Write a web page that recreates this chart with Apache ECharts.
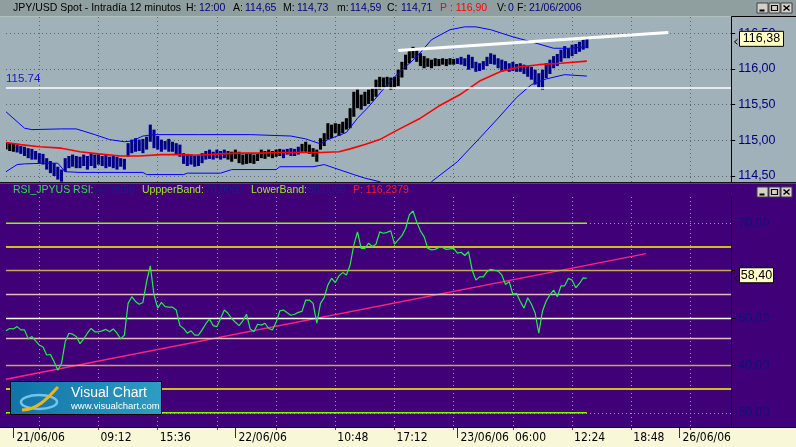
<!DOCTYPE html>
<html><head><meta charset="utf-8">
<script src="https://cdn.jsdelivr.net/npm/echarts@6/dist/echarts.min.js"></script>
<style>html,body{margin:0;padding:0;background:#f8f8d8;overflow:hidden}#c{width:796px;height:447px}</style>
</head><body><div id="c"></div>
<script>
// ---------- DATA ----------
// 24-minute steps (two 12-min bars per point), first point 20/06/06 23:12
const dayNames = ['20/06/06','21/06/06','22/06/06','23/06/06','26/06/06'];
const gridTimes = ['21/06/06 02:48','21/06/06 09:12','21/06/06 15:36','21/06/06 22:00','22/06/06 04:24','22/06/06 10:48','22/06/06 17:12','22/06/06 23:36','23/06/06 06:00','23/06/06 12:24','23/06/06 18:48','26/06/06 01:12'];
const shownTimes = ['21/06/06 09:12','21/06/06 15:36','22/06/06 10:48','22/06/06 17:12','23/06/06 06:00','23/06/06 12:24','23/06/06 18:48'];
const dayTicks = ['21/06/06 00:00','22/06/06 00:00','23/06/06 00:00','26/06/06 00:00'];
const priceTicks = [114.5,115,115.5,116,116.5];
const rsiTicks = [30,40,50,60,70];

const priceHigh = [
114.97,114.96,114.95,114.94,114.92,114.91,114.89,114.88,114.85,114.82,
114.81,114.75,114.71,114.68,114.63,114.59,114.75,114.78,114.80,114.78,
114.77,114.80,114.78,114.82,114.80,114.81,114.78,114.80,114.77,114.78,
114.77,114.75,114.74,114.96,115.01,115.03,115.01,115.02,115.05,115.22,
115.15,115.06,115.01,114.99,115.02,114.98,114.96,114.94,114.82,114.81,
114.80,114.78,114.80,114.82,114.85,114.87,114.84,114.87,114.85,114.87,
114.85,114.84,114.87,114.84,114.80,114.81,114.82,114.80,114.82,114.87,
114.85,114.87,114.85,114.87,114.88,114.87,114.88,114.89,114.88,114.91,
114.95,114.98,114.94,114.89,114.87,115.03,115.10,115.24,115.22,115.24,
115.23,115.26,115.31,115.45,115.68,115.71,115.64,115.68,115.71,115.73,
115.85,115.89,115.88,115.89,115.88,115.89,115.99,116.10,116.20,116.27,
116.31,116.27,116.22,116.18,116.15,116.13,116.15,116.14,116.15,116.14,
116.15,116.14,116.15,116.17,116.15,116.20,116.17,116.10,116.08,116.11,
116.17,116.22,116.20,116.15,116.13,116.11,116.08,116.10,116.07,116.08,
116.06,116.04,116.03,115.99,115.94,115.99,116.08,116.13,116.18,116.21,
116.27,116.32,116.29,116.34,116.35,116.38,116.41,116.45];
const priceLow = [
114.87,114.85,114.84,114.83,114.81,114.78,114.75,114.73,114.73,114.68,
114.66,114.59,114.54,114.50,114.45,114.42,114.56,114.61,114.63,114.61,
114.61,114.64,114.59,114.64,114.61,114.66,114.64,114.61,114.63,114.61,
114.59,114.63,114.59,114.77,114.82,114.84,114.85,114.82,114.87,114.98,
114.89,114.87,114.84,114.87,114.84,114.84,114.80,114.77,114.67,114.64,
114.66,114.63,114.64,114.68,114.73,114.74,114.73,114.75,114.73,114.75,
114.73,114.70,114.74,114.68,114.66,114.67,114.68,114.67,114.71,114.75,
114.74,114.77,114.75,114.77,114.78,114.75,114.80,114.78,114.78,114.80,
114.84,114.84,114.81,114.77,114.70,114.87,114.92,115.01,115.03,115.10,
115.06,115.10,115.15,115.17,115.33,115.45,115.43,115.48,115.51,115.55,
115.61,115.71,115.74,115.75,115.71,115.74,115.76,115.88,115.99,116.08,
116.15,116.10,116.04,116.01,116.03,116.01,116.04,116.04,116.06,116.04,
116.06,116.06,116.07,116.06,116.04,115.99,116.01,115.96,115.97,115.99,
116.04,116.07,116.06,116.01,115.96,115.99,115.96,115.97,115.96,115.96,
115.93,115.89,115.85,115.78,115.74,115.71,115.87,115.93,116.01,116.04,
116.10,116.15,116.15,116.18,116.21,116.24,116.27,116.29];
const movingAvg = [[0,114.97],[4,114.94],[9,114.91],[15,114.89],[20,114.84],[25,114.81],[31,114.78],[36,114.78],[42,114.80],[47,114.80],[52,114.79],[58,114.81],[63,114.82],[69,114.82],[74,114.83],[79,114.83],[85,114.83],[90,114.84],[93,114.88],[97,114.94],[101,115.01],[106,115.15],[112,115.31],[117,115.48],[123,115.65],[128,115.83],[134,115.97],[139,116.03],[144,116.06],[150,116.08],[157,116.11]];
const upperBand = [[0,115.40],[5,115.17],[7,115.15],[15,115.16],[19,115.16],[24,115.08],[28,115.01],[32,114.98],[34,114.99],[37,115.06],[40,115.08],[52,115.08],[66,115.08],[77,115.06],[81,115.02],[85,114.95],[87,115.01],[92,115.11],[95,115.31],[98,115.47],[103,115.78],[106,115.94],[111,116.17],[115,116.41],[120,116.55],[124,116.59],[127,116.59],[131,116.55],[137,116.45],[142,116.38],[148,116.29],[152,116.29],[157,116.31]];
const lowerBand = [[0,114.56],[3,114.66],[5,114.67],[11,114.68],[14,114.68],[16,114.56],[20,114.55],[37,114.55],[38,114.52],[48,114.52],[49,114.54],[58,114.54],[61,114.59],[73,114.59],[74,114.63],[83,114.63],[86,114.66],[90,114.59],[94,114.52],[97,114.47],[101,114.42],[105,114.30],[109,114.18],[113,114.25],[115,114.42],[122,114.70],[128,115.03],[133,115.31],[138,115.60],[142,115.78],[146,115.86],[151,115.92],[157,115.90]];
const priceTrend = [[106,116.26],[179,116.51]];
const supportLevel = 115.74;
const lastPrice = 116.38;

const rsiValues = [
47.3,47.8,47.7,48.2,47.5,47.5,45.6,46.1,45.2,44.3,
43.9,42.2,42.3,40.8,39.0,40.4,45.0,46.8,46.6,46.1,
44.6,45.6,46.8,47.8,47.1,47.1,47.3,47.6,47.1,47.7,
46.8,45.6,46.4,53.1,54.5,53.5,52.9,53.3,57.7,61.0,
54.9,52.1,53.3,52.4,52.3,52.3,51.7,48.4,47.8,46.8,
47.3,46.4,46.4,47.5,48.8,49.8,48.4,48.2,49.9,51.7,
51.0,49.9,49.1,48.4,49.4,50.8,47.7,47.1,48.7,48.5,
48.9,47.8,47.5,49.1,51.5,51.7,51.1,50.6,50.8,51.2,
51.4,53.8,53.8,53.1,48.9,53.1,54.3,57.0,58.4,57.5,
58.9,59.6,59.1,61.2,65.4,68.2,64.7,64.7,65.8,65.1,
65.6,68.2,67.9,68.1,68.4,65.6,66.5,67.4,68.9,71.8,
72.6,70.3,68.4,67.2,64.7,64.4,64.5,64.9,64.9,64.5,
64.6,64.7,63.7,63.9,63.2,64.0,60.1,58.0,58.7,58.7,
59.8,60.3,60.1,59.9,59.1,57.1,57.7,55.0,55.2,53.5,
52.1,54.3,52.9,51.1,46.8,51.5,53.6,54.9,55.9,54.5,
56.8,56.8,58.4,58.0,56.4,57.3,58.5,58.4];
const rsiTrend = [[0,37.1],[173,63.6]];
const rsiBandLevels = [70,30];
const rsiLevels = [65,60,55,50,45.7,40,35];
const lastRsi = 58.40;

// ---------- STYLE ----------
const levelColors = ['#ffff00','#c8a850','#e6bcb8','#ffffff','#e6bcb8','#c8a850','#ffff00'];
const blackRanges = [[0,2],[60,74],[80,121]];
const NAVY = '#000080';
const SANS = '"Liberation Sans", Arial, sans-serif';
const NARROW = '"DejaVu Sans Condensed", sans-serif';

// categories (axis)
const categories = [];
(function(){
  let d = 0, m = 23*60+12;
  for (let i = 0; i < 197; i++) {
    const hh = String(Math.floor(m/60)).padStart(2,'0'), mm = String(m%60).padStart(2,'0');
    categories.push(dayNames[d] + ' ' + hh + ':' + mm);
    m += 24; if (m >= 1440) { m -= 1440; d++; }
  }
})();
const fmt = v => v.toFixed(2).replace('.', ',');
function priceColor(i){ return blackRanges.some(r => i >= r[0] && i <= r[1]) ? '#000000' : '#00008b'; }

const chart = echarts.init(document.getElementById('c'), null, {renderer:'canvas', width:796, height:447});

const option = {
  animation:false,
  backgroundColor:'#f8f8d8',
  grid:[{left:6, top:17, width:725.2, height:165},{left:6, top:197, width:725.2, height:230}],
  xAxis:[
    {type:'category', gridIndex:0, data:categories, boundaryGap:false,
     axisLine:{show:false}, axisTick:{show:false}, axisLabel:{show:false},
     splitLine:{show:true, interval:(i,v)=>gridTimes.includes(v), lineStyle:{color:'#5c676c', type:[1,3], width:1}}},
    {type:'category', gridIndex:1, data:categories, boundaryGap:false, position:'bottom',
     axisLine:{show:true, onZero:false, lineStyle:{color:'#000'}},
     axisTick:{show:true, interval:(i,v)=>gridTimes.includes(v), length:3, lineStyle:{color:'#505050'}},
     axisLabel:{show:true, interval:(i,v)=>shownTimes.includes(v), formatter:v=>v.split(' ')[1], align:'left', margin:5, color:'#000', fontSize:12, fontFamily:NARROW, padding:[0,0,0,2]},
     splitLine:{show:true, interval:(i,v)=>gridTimes.includes(v), lineStyle:{color:'#a88fc4', type:[1,3], width:1}}},
    {type:'category', gridIndex:1, data:categories, boundaryGap:false, position:'bottom',
     axisLine:{show:false, onZero:false},
     axisTick:{show:true, interval:(i,v)=>dayTicks.includes(v), length:11, lineStyle:{color:'#303030'}},
     axisLabel:{show:true, interval:(i,v)=>dayTicks.includes(v), formatter:v=>v.split(' ')[0], align:'left', margin:5, color:'#000', fontSize:12, fontFamily:NARROW, padding:[0,0,0,3]},
     splitLine:{show:false}}
  ],
  yAxis:[
    {type:'value', gridIndex:0, position:'right', min:114.416, max:116.728,
     axisLine:{show:true, lineStyle:{color:'#000'}},
     axisTick:{show:true, customValues:priceTicks, length:4, lineStyle:{color:'#000'}},
     axisLabel:{customValues:priceTicks, formatter:fmt, color:NAVY, fontSize:12.5, margin:7, fontFamily:SANS},
     splitLine:{show:true, lineStyle:{color:'#5c676c', type:[1,3], width:1}}},
    {type:'value', gridIndex:1, position:'right', min:27, max:75.555,
     axisLine:{show:true, lineStyle:{color:'#000'}},
     axisTick:{show:true, customValues:rsiTicks, length:4, lineStyle:{color:'#000'}},
     axisLabel:{customValues:rsiTicks, formatter:fmt, color:'#10107a', fontSize:12.5, margin:7, fontFamily:SANS},
     splitLine:{show:true, lineStyle:{color:'#a88fc4', type:[1,3], width:1}}}
  ],
  series:[
    {type:'custom', name:'price', xAxisIndex:0, yAxisIndex:0, clip:true, z:2,
     data: priceHigh.map((h,i)=>[i, priceLow[i], h]),
     encode:{x:0, y:[1,2]},
     renderItem:function(params, api){
       const i = api.value(0);
       const t = api.coord([i, api.value(2)]);
       const b = api.coord([i, api.value(1)]);
       const w = 3.1;
       return {type:'rect', shape:{x:t[0]-w/2, y:t[1], width:w, height:Math.max(1, b[1]-t[1])}, style:{fill:priceColor(i)}};
     }},
    {type:'line', name:'upper', xAxisIndex:0, yAxisIndex:0, data:upperBand, symbol:'none', z:3, clip:true,
     lineStyle:{color:'#0000ff', width:1},
     markLine:{silent:true, symbol:['none','none'], data:[{yAxis:supportLevel,
        lineStyle:{color:'#ffffff', width:1.5, type:'solid'},
        label:{show:true, position:'insideStartTop', formatter:'115.74', color:'#1414d0', fontSize:11.5, fontFamily:SANS, distance:[0,3]}}]}},
    {type:'line', name:'lower', xAxisIndex:0, yAxisIndex:0, data:lowerBand, symbol:'none', z:3, clip:true,
     lineStyle:{color:'#0000ff', width:1}},
    {type:'line', name:'ma', xAxisIndex:0, yAxisIndex:0, data:movingAvg, symbol:'none', z:4, clip:true,
     lineStyle:{color:'#ff0000', width:1.6}},
    {type:'line', name:'trend', xAxisIndex:0, yAxisIndex:0, data:priceTrend, symbol:'none', z:5, clip:true,
     lineStyle:{color:'#ffffff', width:3}},
    {type:'line', name:'lv70', xAxisIndex:1, yAxisIndex:1, data:[[0,rsiBandLevels[0]],[rsiValues.length-1,rsiBandLevels[0]]], symbol:'none', z:2,
     lineStyle:{color:'#80ff00', width:1.5},
     markLine:{silent:true, symbol:['none','none'], label:{show:false},
       data: rsiLevels.map((v,i)=>({yAxis:v, lineStyle:{color:levelColors[i], width:(levelColors[i]==='#ffff00'?1.6:1.3), type:'solid'}}))}},
    {type:'line', name:'lv30', xAxisIndex:1, yAxisIndex:1, data:[[0,rsiBandLevels[1]],[rsiValues.length-1,rsiBandLevels[1]]], symbol:'none', z:2,
     lineStyle:{color:'#80ff00', width:1.5}},
    {type:'line', name:'rsiTrend', xAxisIndex:1, yAxisIndex:1, data:rsiTrend, symbol:'none', z:3,
     lineStyle:{color:'#ff2280', width:1.5}},
    {type:'line', name:'rsi', xAxisIndex:1, yAxisIndex:1, data:rsiValues, symbol:'none', z:5,
     lineStyle:{color:'#22ee4a', width:1.2}}
  ]
};
chart.setOption(option);

// ---------- annotations / chrome ----------
const G = [];
G.push({type:'rect', z:-10, shape:{x:0,y:0,width:796,height:16.5}, style:{fill:'#8f9f9f'}});
G.push({type:'rect', z:-10, shape:{x:0,y:16.5,width:796,height:165.5}, style:{fill:'#a1b1b9'}});
G.push({type:'rect', z:-10, shape:{x:0,y:182,width:796,height:1.5}, style:{fill:'#141414'}});
G.push({type:'rect', z:-10, shape:{x:0,y:183.5,width:796,height:243.5}, style:{fill:'#3f0078'}});
G.push({type:'line', z:10, shape:{x1:0,y1:427.5,x2:796,y2:427.5}, style:{stroke:'#000',lineWidth:1}});
G.push({type:'line', z:10, shape:{x1:731.5,y1:16.5,x2:796,y2:16.5}, style:{stroke:'#000',lineWidth:1}});
G.push({type:'line', z:10, shape:{x1:731.5,y1:16.5,x2:731.5,y2:182}, style:{stroke:'#000',lineWidth:1}});

function txt(s, x, y, color, size){
  return {type:'text', z:20, x:x, y:y, style:{text:s, fill:color, font:(size||10.5)+'px '+SANS, verticalAlign:'middle', align:'left'}};
}
const titleSegs = [
 ['JPY/USD Spot - Intradía 12 minutos',13,'#000'],['H:',186,'#000'],['12:00',199,NAVY],
 ['A:',233,'#000'],['114,65',245,NAVY],['M:',283,'#000'],['114,73',297,NAVY],
 ['m:',337,'#000'],['114,59',350,NAVY],['C:',387,'#000'],['114,71',401,NAVY],
 ['P : 116,90',440,'#ff0000'],['V:',497,'#000'],['0',508,NAVY],['F:',517,'#000'],['21/06/2006',529,NAVY]
];
titleSegs.forEach(s => G.push(txt(s[0], s[1], 8.5, s[2], 10.5)));
const rsiSegs = [
 ['RSI_JPYUS RSI:',13,'#2ee04a'],['47,8698',97,'#1c1c8c'],['UppperBand:',142,'#9aee22'],
 ['70,0000',205,'#1c1c8c'],['LowerBand:',251,'#9aee22'],['30,0000',308,'#1c1c8c'],['P: 116,2379',353,'#ff1a1a']
];
rsiSegs.forEach(s => G.push(txt(s[0], s[1], 190, s[2], 10.5)));

function winButtons(y){
  const els = [];
  [757,769,781].forEach(x => els.push({type:'rect', z:20, shape:{x:x, y:y, width:11, height:10}, style:{fill:'#d4d0c8', stroke:'#404040', lineWidth:1}}));
  els.push({type:'line', z:21, shape:{x1:759.5,y1:y+7.5,x2:764.5,y2:y+7.5}, style:{stroke:'#000',lineWidth:2}});
  els.push({type:'rect', z:21, shape:{x:771.5,y:y+2.5,width:6,height:5}, style:{fill:'none',stroke:'#000',lineWidth:1.2}});
  els.push({type:'line', z:21, shape:{x1:783.5,y1:y+2.5,x2:789.5,y2:y+7.5}, style:{stroke:'#000',lineWidth:1.5}});
  els.push({type:'line', z:21, shape:{x1:789.5,y1:y+2.5,x2:783.5,y2:y+7.5}, style:{stroke:'#000',lineWidth:1.5}});
  return els;
}
G.push(...winButtons(3));
G.push(...winButtons(187));

// last value markers
const yP = chart.convertToPixel({yAxisIndex:0}, lastPrice);
const yR = chart.convertToPixel({yAxisIndex:1}, lastRsi);
function marker(y, label, w){
  return [
    {type:'polyline', z:30, shape:{points:[[737.5,y-2.5],[734.5,y],[737.5,y+2.5]]}, style:{stroke:'#000', fill:'none', lineWidth:1}},
    {type:'rect', z:30, shape:{x:739.5, y:y-10.5, width:w, height:15}, style:{fill:'#ffffc4', stroke:'#000', lineWidth:1}},
    {type:'text', z:31, x:739.5+w/2, y:y-2.8, style:{text:label, fill:'#000', font:'12.5px '+SANS, align:'center', verticalAlign:'middle'}}
  ];
}
G.push(...marker(yP, fmt(lastPrice), 44));
G.push(...marker(yR, fmt(lastRsi), 34));

// Visual Chart logo
G.push({type:'group', x:10, y:381, z:40, children:[
  {type:'rect', z:40, shape:{x:0.5,y:0.5,width:151,height:33}, style:{stroke:'#000', lineWidth:1,
     fill:new echarts.graphic.LinearGradient(0,0,1,0,[{offset:0,color:'#0f72a8'},{offset:1,color:'#2f9dc2'}])}},
  {type:'ellipse', z:41, shape:{cx:29, cy:21, rx:18, ry:7}, style:{stroke:'#74c4ea', fill:'none', lineWidth:2.5}},
  {type:'bezierCurve', z:42, shape:{x1:12,y1:29,cpx1:30,cpy1:28,cpx2:40,cpy2:14,x2:48,y2:6}, style:{stroke:'#f2b41c', fill:'none', lineWidth:3}},
  {type:'text', z:43, x:61, y:12, style:{text:'Visual Chart', fill:'#ffffff', font:'14px '+SANS, verticalAlign:'middle'}},
  {type:'text', z:43, x:61, y:25, style:{text:'www.visualchart.com', fill:'#ffffff', font:'9.5px '+SANS, verticalAlign:'middle'}}
]});

chart.setOption({graphic:{elements:G}});
</script></body></html>
